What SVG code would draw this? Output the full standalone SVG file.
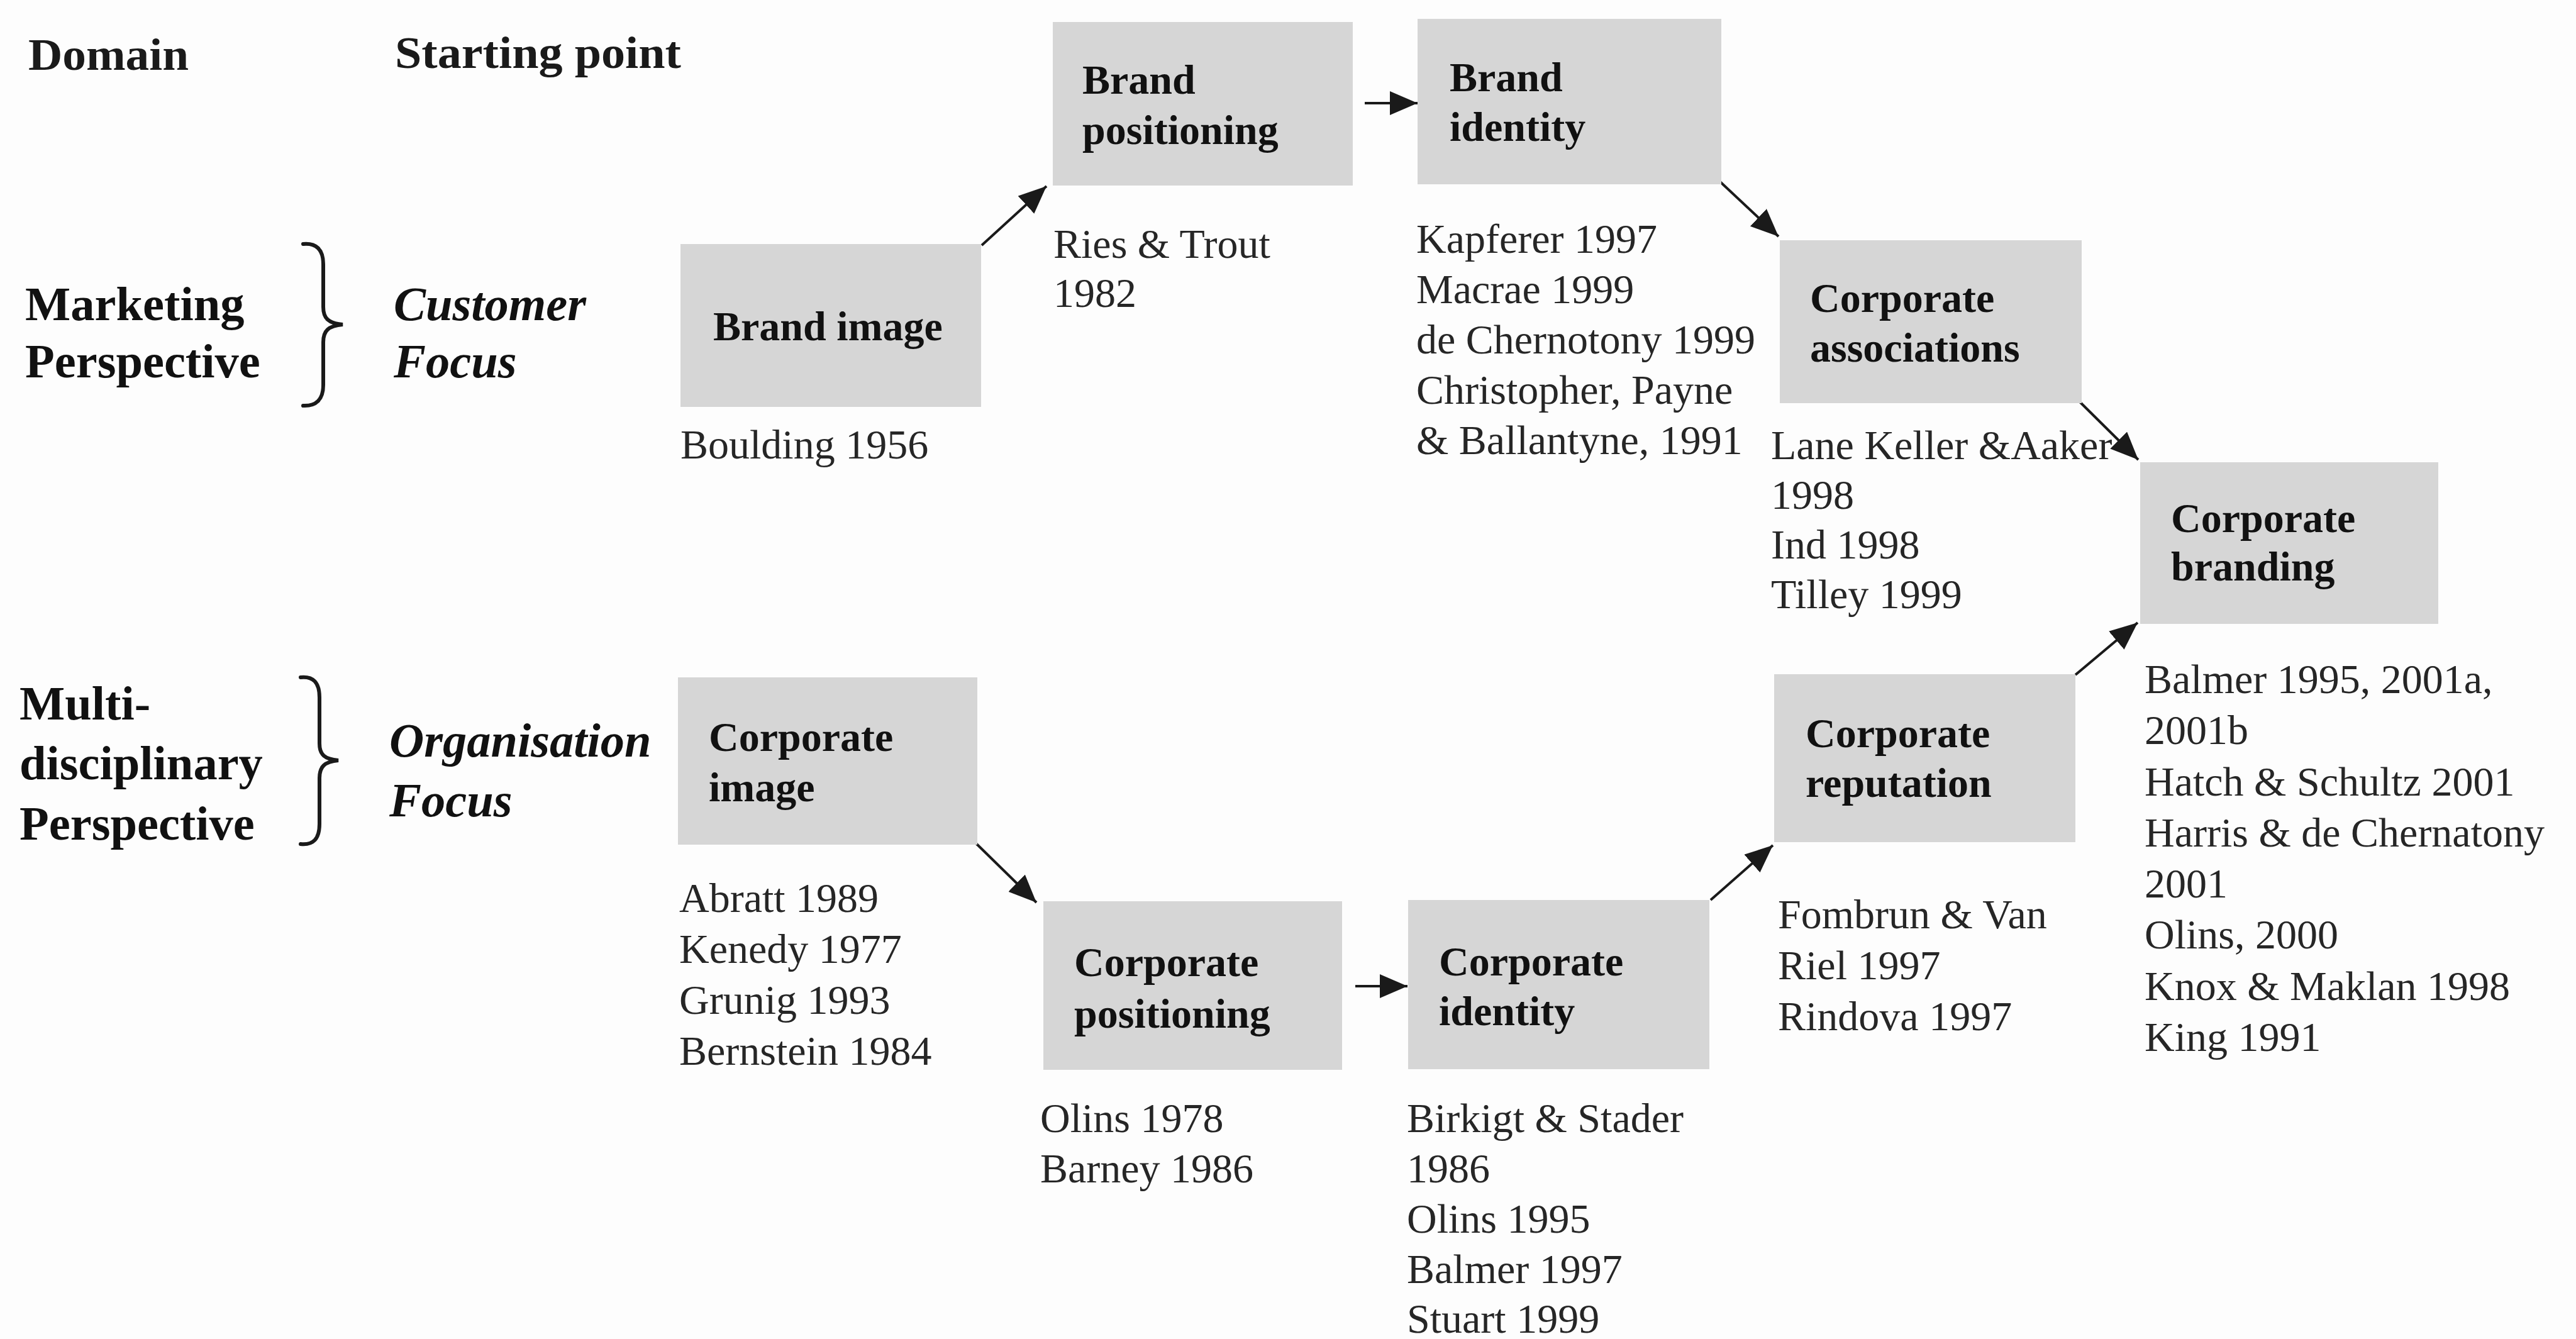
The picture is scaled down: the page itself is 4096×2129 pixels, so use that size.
<svg xmlns="http://www.w3.org/2000/svg" width="4096" height="2129" viewBox="0 0 4096 2129">
  <defs>
    <style>
      text { font-family: "Liberation Serif", "Times New Roman", serif; }
      .hd { font-size: 72px; font-weight: bold; fill: #1a1a1a; }
      .side { font-size: 76.5px; font-weight: bold; fill: #111; }
      .focus { font-size: 76.5px; font-weight: bold; font-style: italic; fill: #111; }
      .lbl { font-size: 66px; font-weight: bold; fill: #111; }
      .ref { font-size: 66px; fill: #262626; }
      .box { fill: #d6d6d6; }
      .conn { stroke: #1a1a1a; stroke-width: 4; fill: none; marker-end: url(#ah); }
      .brace { stroke: #1a1a1a; stroke-width: 6; fill: none; stroke-linecap: round; stroke-linejoin: miter; }
    </style>
    <marker id="ah" markerUnits="userSpaceOnUse" markerWidth="46" markerHeight="40" refX="44" refY="19" orient="auto">
      <path d="M0,0 L44,19 L0,38 Z" fill="#1a1a1a"/>
    </marker>
  </defs>

  <rect width="4096" height="2129" fill="#fdfdfd"/>

  <!-- column headings -->
  <g id="headings">
    <text class="hd" x="45" y="111" textLength="255" lengthAdjust="spacingAndGlyphs">Domain</text>
    <text class="hd" x="628" y="108" textLength="455" lengthAdjust="spacingAndGlyphs">Starting point</text>
  </g>

  <!-- domain / starting point rows -->
  <g id="row-marketing">
    <text class="side" x="40" y="509">Marketing</text>
    <text class="side" x="40" y="600">Perspective</text>
    <path class="brace" d="M482 388 C502 386, 514 396, 514 420 L514 488 C514 506, 522 514, 545 516 C522 518, 514 526, 514 544 L514 612 C514 636, 502 646, 482 645"/>
    <text class="focus" x="626" y="509">Customer</text>
    <text class="focus" x="626" y="600">Focus</text>
  </g>

  <g id="row-multidisciplinary">
    <text class="side" x="31" y="1144">Multi-</text>
    <text class="side" x="31" y="1239">disciplinary</text>
    <text class="side" x="31" y="1335">Perspective</text>
    <path class="brace" d="M478 1077 C498 1075, 508 1085, 508 1109 L508 1182 C508 1200, 516 1207, 538 1209 C516 1211, 508 1219, 508 1237 L508 1310 C508 1334, 498 1344, 478 1342"/>
    <text class="focus" x="619" y="1203">Organisation</text>
    <text class="focus" x="619" y="1298">Focus</text>
  </g>

  <!-- connectors -->
  <g id="connectors">
    <line class="conn" x1="1561" y1="390" x2="1664" y2="296"/>
    <line class="conn" x1="2170" y1="164" x2="2254" y2="164"/>
    <line class="conn" x1="2733" y1="287" x2="2828" y2="376"/>
    <line class="conn" x1="3306" y1="638" x2="3400" y2="731"/>
    <line class="conn" x1="1552" y1="1341" x2="1648" y2="1435"/>
    <line class="conn" x1="2155" y1="1568" x2="2238" y2="1568"/>
    <line class="conn" x1="2720" y1="1431" x2="2819" y2="1344"/>
    <line class="conn" x1="3300" y1="1073" x2="3399" y2="990"/>
  </g>

  <!-- customer focus chain -->
  <g id="brand-image">
    <rect class="box" x="1082" y="388" width="478" height="259"/>
    <text class="lbl" x="1134" y="541">Brand image</text>
    <text class="ref" x="1082" y="729">Boulding 1956</text>
  </g>

  <g id="brand-positioning">
    <rect class="box" x="1674" y="35" width="477" height="260"/>
    <text class="lbl" x="1721" y="149">Brand</text>
    <text class="lbl" x="1721" y="229">positioning</text>
    <text class="ref" x="1675" y="410">Ries &amp; Trout</text>
    <text class="ref" x="1675" y="488">1982</text>
  </g>

  <g id="brand-identity">
    <rect class="box" x="2254" y="30" width="483" height="263"/>
    <text class="lbl" x="2305" y="145">Brand</text>
    <text class="lbl" x="2305" y="224">identity</text>
    <text class="ref" x="2252" y="402">Kapferer 1997</text>
    <text class="ref" x="2252" y="482">Macrae 1999</text>
    <text class="ref" x="2252" y="562">de Chernotony 1999</text>
    <text class="ref" x="2252" y="642">Christopher, Payne</text>
    <text class="ref" x="2252" y="722">&amp; Ballantyne, 1991</text>
  </g>

  <g id="corporate-associations">
    <rect class="box" x="2830" y="382" width="480" height="259"/>
    <text class="lbl" x="2878" y="496">Corporate</text>
    <text class="lbl" x="2878" y="575">associations</text>
    <text class="ref" x="2816" y="730">Lane Keller &amp;Aaker</text>
    <text class="ref" x="2816" y="809">1998</text>
    <text class="ref" x="2816" y="888">Ind 1998</text>
    <text class="ref" x="2816" y="967">Tilley 1999</text>
  </g>

  <g id="corporate-branding">
    <rect class="box" x="3403" y="735" width="474" height="257"/>
    <text class="lbl" x="3452" y="846">Corporate</text>
    <text class="lbl" x="3452" y="923">branding</text>
    <text class="ref" x="3410" y="1102">Balmer 1995, 2001a,</text>
    <text class="ref" x="3410" y="1183">2001b</text>
    <text class="ref" x="3410" y="1265">Hatch &amp; Schultz 2001</text>
    <text class="ref" x="3410" y="1346">Harris &amp; de Chernatony</text>
    <text class="ref" x="3410" y="1427">2001</text>
    <text class="ref" x="3410" y="1508">Olins, 2000</text>
    <text class="ref" x="3410" y="1590">Knox &amp; Maklan 1998</text>
    <text class="ref" x="3410" y="1671">King 1991</text>
  </g>

  <!-- organisation focus chain -->
  <g id="corporate-image">
    <rect class="box" x="1078" y="1077" width="476" height="266"/>
    <text class="lbl" x="1127" y="1194">Corporate</text>
    <text class="lbl" x="1127" y="1274">image</text>
    <text class="ref" x="1080" y="1450">Abratt 1989</text>
    <text class="ref" x="1080" y="1531">Kenedy 1977</text>
    <text class="ref" x="1080" y="1612">Grunig 1993</text>
    <text class="ref" x="1080" y="1693">Bernstein 1984</text>
  </g>

  <g id="corporate-positioning">
    <rect class="box" x="1659" y="1433" width="475" height="268"/>
    <text class="lbl" x="1708" y="1552">Corporate</text>
    <text class="lbl" x="1708" y="1634">positioning</text>
    <text class="ref" x="1654" y="1800">Olins 1978</text>
    <text class="ref" x="1654" y="1880">Barney 1986</text>
  </g>

  <g id="corporate-identity">
    <rect class="box" x="2239" y="1431" width="479" height="269"/>
    <text class="lbl" x="2288" y="1551">Corporate</text>
    <text class="lbl" x="2288" y="1630">identity</text>
    <text class="ref" x="2237" y="1800">Birkigt &amp; Stader</text>
    <text class="ref" x="2237" y="1880">1986</text>
    <text class="ref" x="2237" y="1960">Olins 1995</text>
    <text class="ref" x="2237" y="2040">Balmer 1997</text>
    <text class="ref" x="2237" y="2119">Stuart 1999</text>
  </g>

  <g id="corporate-reputation">
    <rect class="box" x="2821" y="1072" width="479" height="267"/>
    <text class="lbl" x="2871" y="1188">Corporate</text>
    <text class="lbl" x="2871" y="1267">reputation</text>
    <text class="ref" x="2827" y="1476">Fombrun &amp; Van</text>
    <text class="ref" x="2827" y="1557">Riel 1997</text>
    <text class="ref" x="2827" y="1638">Rindova 1997</text>
  </g>
</svg>
